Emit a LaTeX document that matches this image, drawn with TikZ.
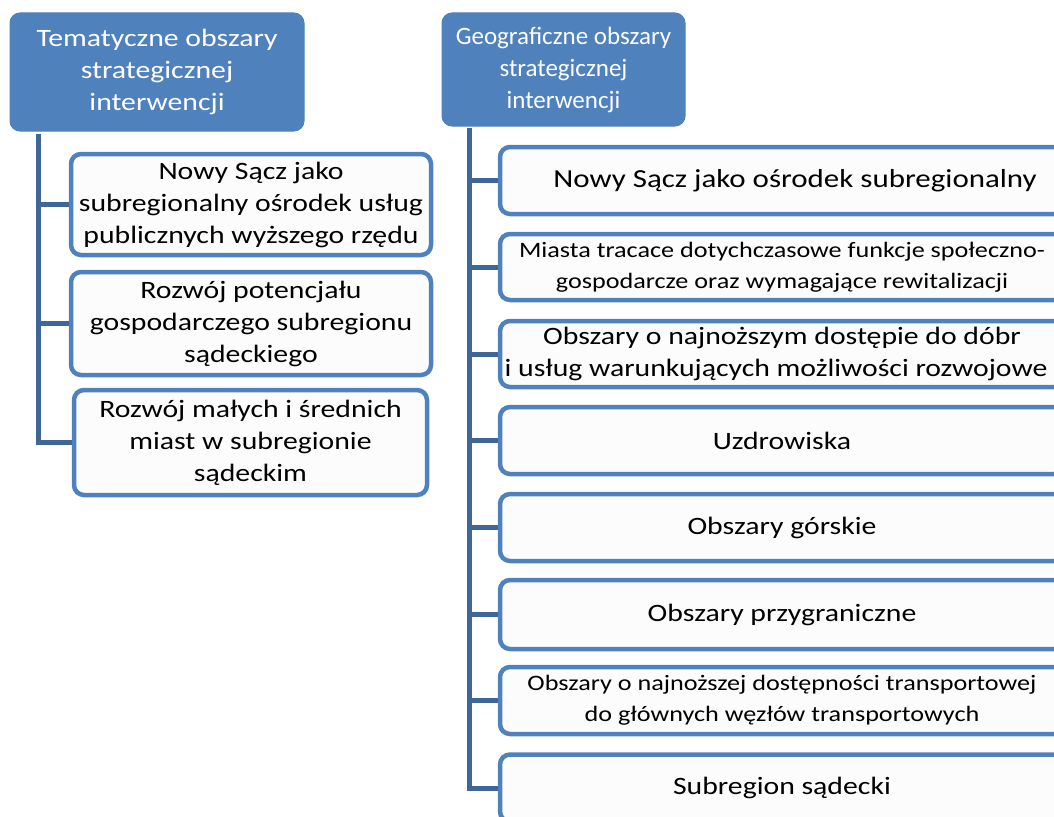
\documentclass[tikz,border=0pt]{standalone}
\usepackage{fontspec}
\setmainfont{Carlito}[FakeStretch=1.19]
\newfontfamily\narrowcal{Carlito}
\definecolor{hdrblue}{HTML}{4F81BD}
\definecolor{connblue}{HTML}{3F6699}
\definecolor{boxfill}{HTML}{FCFCFC}
\tikzset{
  hdr/.style={draw=hdrblue, fill=hdrblue, rounded corners=10pt, line width=1pt, text=white, align=center, inner sep=0pt, font=\fontsize{25}{32}\selectfont},
  hdrnarrow/.style={hdr, font=\narrowcal\fontsize{25}{32}\selectfont},
  child/.style={draw=hdrblue, fill=boxfill, rounded corners=10pt, line width=4.5pt, text=black, align=center, inner sep=0pt, font=\fontsize{25}{32}\selectfont},
  childwide/.style={child, font=\fontsize{26}{32}\selectfont},
  childsmall/.style={child, font=\fontsize{22}{31}\selectfont},
  conn/.style={draw=connblue, line width=5pt}
}
\begin{document}
\begin{tikzpicture}[x=1pt,y=-1pt]
\useasboundingbox (0,0) rectangle (1054,816);
\clip (0,0) rectangle (1054,816);
% headers
\node[hdr, minimum width=294pt, minimum height=118pt] (hl) at (157,72) {Tematyczne obszary\\strategicznej\\interwencji};
\node[hdrnarrow, minimum width=243pt, minimum height=113pt] (hr) at (563.5,69.5) {Geograficzne obszary\\strategicznej\\interwencji};
% left children
\node[child, minimum width=360pt, minimum height=101pt] (l1) at (251,204.5) {Nowy Sącz jako\\subregionalny ośrodek usług\\publicznych wyższego rzędu};
\node[child, minimum width=360pt, minimum height=103pt] (l2) at (251,323.5) {Rozwój potencjału\\gospodarczego subregionu\\sądeckiego};
\node[child, minimum width=353pt, minimum height=105pt] (l3) at (250.5,442.5) {Rozwój małych i średnich\\miast w subregionie\\sądeckim};
% right children
\node[childwide, minimum width=564pt, minimum height=67pt] (r1) at (782,180.5) {\hspace*{26pt}Nowy Sącz jako ośrodek subregionalny};
\node[childsmall, minimum width=564pt, minimum height=66pt] (r2) at (782,267) {Miasta tracace dotychczasowe funkcje społeczno-\\gospodarcze oraz wymagające rewitalizacji};
\node[child, minimum width=564pt, minimum height=66pt] (r3) at (782,354) {Obszary o najnoższym dostępie do dóbr\\i usług warunkujących możliwości rozwojowe\hspace*{12pt}};
\node[child, minimum width=564pt, minimum height=67pt] (r4) at (782,440.5) {Uzdrowiska};
\node[child, minimum width=564pt, minimum height=67pt] (r5) at (782,527.5) {Obszary górskie};
\node[child, minimum width=564pt, minimum height=69pt] (r6) at (782,614.5) {Obszary przygraniczne};
\node[childsmall, minimum width=564pt, minimum height=67pt] (r7) at (782,700.5) {Obszary o najnoższej dostępności transportowej\\do głównych węzłów transportowych};
\node[child, minimum width=564pt, minimum height=67pt] (r8) at (782,788) {Subregion sądecki};
% connectors
\coordinate (lt) at (38,134);
\coordinate (rt) at (469,128);
\draw[conn] (lt) |- (l3.west);
\draw[conn] (lt |- l1.west) -- (l1.west);
\draw[conn] (lt |- l2.west) -- (l2.west);
\draw[conn] (rt) |- (r8.west);
\foreach \n in {r1,r2,r3,r4,r5,r6,r7}{
  \draw[conn] (rt |- \n.west) -- (\n.west);
}
\end{tikzpicture}
\end{document}
